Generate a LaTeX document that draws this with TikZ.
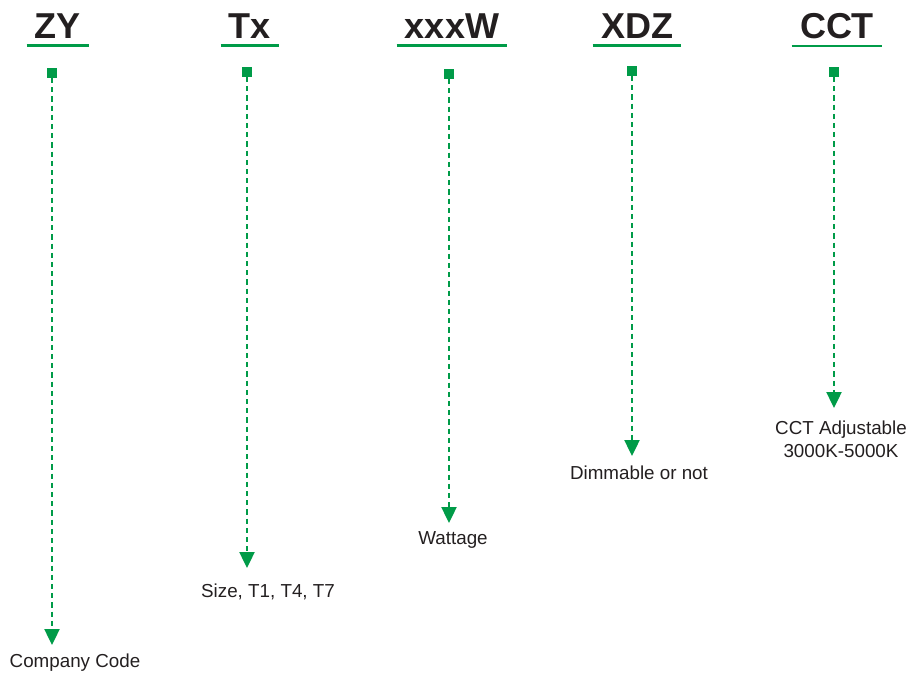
\documentclass[tikz,border=0pt]{standalone}
\usepackage{fontspec}
\setmainfont{Liberation Sans}
\usetikzlibrary{positioning,arrows.meta}
\definecolor{CodeGreen}{HTML}{009B48}
\definecolor{CodeInk}{HTML}{231F20}
\tikzset{
  codehead/.style={font=\fontsize{18}{20}\selectfont\bfseries,text=CodeInk,inner xsep=4pt,inner ysep=3.5pt},
  codeline/.style={draw=CodeGreen,line width=1.3pt},
  codepin/.style={fill=CodeGreen,inner sep=0pt,minimum width=5pt,minimum height=4.6pt},
  codelabel/.style={font=\fontsize{9.4}{11.5}\selectfont,text=CodeInk,align=center,inner sep=1pt},
  codeflow/.style={-{Triangle[length=8pt,width=7.5pt]},draw=CodeGreen,line width=1.2pt,dash pattern=on 2.6pt off 2pt}
}
\begin{document}
\begin{tikzpicture}[x=0.5pt,y=-0.5pt]
  \useasboundingbox (0,0) rectangle (916,675);
  % headings
  \node[codehead] (zy) at (58,26) {ZY};
  \node[codehead] (tx) at (250,26) {Tx};
  \node[codehead] (w) at (452,26) {xxxW};
  \node[codehead] (xdz) at (637,26) {XDZ};
  \node[codehead] (cct) at (837,26) {CCT};
  \foreach \h in {zy,tx,w,xdz,cct}
    \draw[codeline] (\h.south west) -- (\h.south east);
  % pins
  \node[codepin] (zyp) at (52,73) {};
  \node[codepin] (txp) at (247,72) {};
  \node[codepin] (wp) at (449,74) {};
  \node[codepin] (xdzp) at (632,71) {};
  \node[codepin] (cctp) at (834,72) {};
  % meanings
  \node[codelabel] (zyl) at (75,663) {Company Code};
  \node[codelabel] (txl) at (268,592) {Size, T1, T4, T7};
  \node[codelabel] (wl) at (453,540) {Wattage};
  \node[codelabel] (xdzl) at (639,473) {Dimmable or not};
  \node[codelabel] (cctl) at (841,439) {CCT Adjustable\\3000K-5000K};
  \draw[codeflow] (zyp.south) -- (zyp.south |- 0,645);
  \draw[codeflow] (txp.south) -- (txp.south |- 0,568);
  \draw[codeflow] (wp.south) -- (wp.south |- 0,523);
  \draw[codeflow] (xdzp.south) -- (xdzp.south |- 0,456);
  \draw[codeflow] (cctp.south) -- (cctp.south |- 0,408);
\end{tikzpicture}
\end{document}
